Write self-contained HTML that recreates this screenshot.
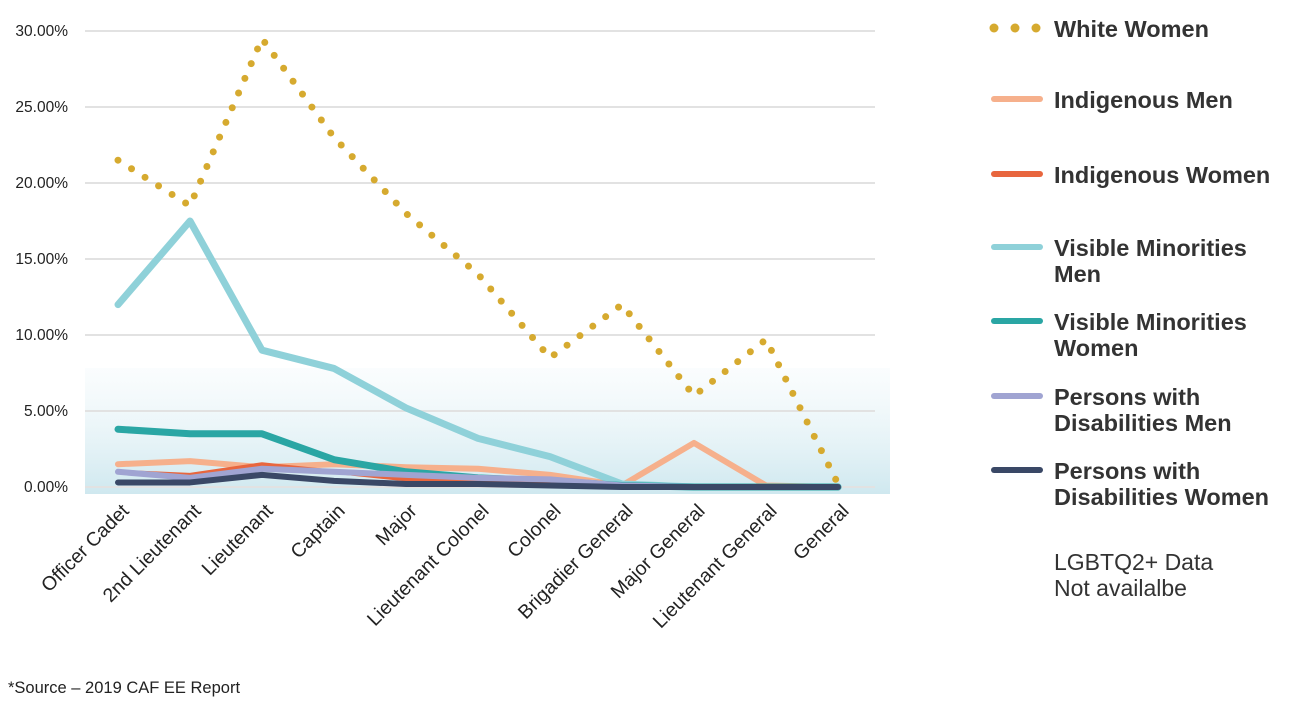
<!DOCTYPE html>
<html><head><meta charset="utf-8"><style>
body{margin:0;background:#fff;width:1300px;height:707px;overflow:hidden;font-family:"Liberation Sans",sans-serif}
svg text{font-family:"Liberation Sans",sans-serif}
</style></head><body>
<svg id="chart" width="1300" height="707" viewBox="0 0 1300 707" xmlns="http://www.w3.org/2000/svg">
<defs><linearGradient id="band" x1="0" y1="0" x2="0" y2="1"><stop offset="0" stop-color="#e8f4f8" stop-opacity="0.2"/><stop offset="1" stop-color="#cfe8ef"/></linearGradient></defs>
<rect x="85" y="368" width="805" height="126" fill="url(#band)"/>
<g id="grid"></g><g id="series"></g><g id="xlabels"></g><g id="legend"></g>
<text x="8" y="693" font-size="16.5" fill="#222">*Source – 2019 CAF EE Report</text>
</svg>
<script>
const categories=["Officer Cadet","2nd Lieutenant","Lieutenant","Captain","Major","Lieutenant Colonel","Colonel","Brigadier General","Major General","Lieutenant General","General"];
const yTicks=[0,5,10,15,20,25,30];
const whiteWomen=[21.5,18.5,29.5,23,18,14,8.5,12,6,9.7,0.2];
const indigenousMen=[1.5,1.7,1.3,1.5,1.3,1.2,0.8,0.1,2.9,0.1,0];
const indigenousWomen=[1.0,0.8,1.5,1.0,0.5,0.4,0.3,0,0,0,0];
const vmMen=[12,17.5,9,7.8,5.2,3.2,2,0.2,0,0,0];
const vmWomen=[3.8,3.5,3.5,1.8,1.0,0.6,0.4,0.1,0,0,0];
const pwdMen=[1.0,0.6,1.2,1.0,0.8,0.6,0.5,0.1,0,0,0];
const pwdWomen=[0.3,0.3,0.8,0.4,0.2,0.2,0.1,0,0,0,0];
const NS="http://www.w3.org/2000/svg";
const x=i=>118+i*72;
const y=v=>487-v*(456/30);
function mk(t,a,p){const e=document.createElementNS(NS,t);for(const k in a)e.setAttribute(k,a[k]);p.appendChild(e);return e;}
const grid=document.getElementById('grid');
yTicks.forEach(v=>{
 const l=mk('line',{x1:85,x2:875,y1:y(v),y2:y(v),stroke:'#e2e2e2','stroke-width':2},grid);
 
 
 const t=mk('text',{x:68,y:y(v)+5,'text-anchor':'end','font-size':15.5,fill:'#222'},grid);
 t.textContent=v.toFixed(2)+'%';
 
 
});
const xl=document.getElementById('xlabels');
categories.forEach((c,i)=>{
 const t=mk('text',{x:x(i)+12,y:512,'text-anchor':'end','font-size':19.5,fill:'#222',transform:`rotate(-45 ${x(i)+12} 512)`},xl);
 t.textContent=c;
 
 
});
const ser=document.getElementById('series');
function line(d,col,w,name){
 const p=mk('polyline',{points:d.map((v,i)=>x(i)+','+y(v)).join(' '),fill:'none',stroke:col,'stroke-width':w,'stroke-linejoin':'round','stroke-linecap':'round'},ser);
 
 
}
line(indigenousMen,'#f6b08c',6,'indigenous-men-line');
line(vmMen,'#8fd1d9',7,'visible-minorities-men-line');
line(vmWomen,'#2aa6a4',7,'visible-minorities-women-line');
line(indigenousWomen,'#e8663e',4,'indigenous-women-line');
line(pwdMen,'#a0a4d2',6,'persons-disabilities-men-line');
line(pwdWomen,'#3a4866',6,'persons-disabilities-women-line');
const ww=mk('polyline',{points:whiteWomen.map((v,i)=>x(i)+','+y(v)).join(' '),fill:'none',stroke:'#d6aa2f','stroke-width':7,'stroke-linecap':'round','stroke-dasharray':'0 16'},ser);


const lg=document.getElementById('legend');
const items=[["White Women",null,'#d6aa2f',35,true],["Indigenous Men",null,'#f6b08c',106],["Indigenous Women",null,'#e8663e',181],["Visible Minorities","Men",'#8fd1d9',254],["Visible Minorities","Women",'#2aa6a4',328],["Persons with","Disabilities Men",'#a0a4d2',403],["Persons with","Disabilities Women",'#3a4866',477]];
items.forEach(it=>{
 const g=mk('g',{},lg);
 
 
 const ly=it[3]-7;
 if(it[4]){[994,1015,1036].forEach(cx=>mk('circle',{cx:cx,cy:ly,r:4.5,fill:it[2]},g));}
 else mk('line',{x1:994,x2:1040,y1:ly,y2:ly,stroke:it[2],'stroke-width':6,'stroke-linecap':'round'},g);
 const t=mk('text',{x:1054,y:it[3]+2,'font-size':23.5,'font-weight':'bold',fill:'#333'},g);t.textContent=it[0];
 if(it[1]){const t2=mk('text',{x:1054,y:it[3]+28,'font-size':23.5,'font-weight':'bold',fill:'#333'},g);t2.textContent=it[1];}
});
const n1=mk('text',{x:1054,y:570,'font-size':23,fill:'#333'},lg);n1.textContent='LGBTQ2+ Data';


const n2=mk('text',{x:1054,y:596,'font-size':23,fill:'#333'},lg);n2.textContent='Not availalbe';


</script>
</body></html>
